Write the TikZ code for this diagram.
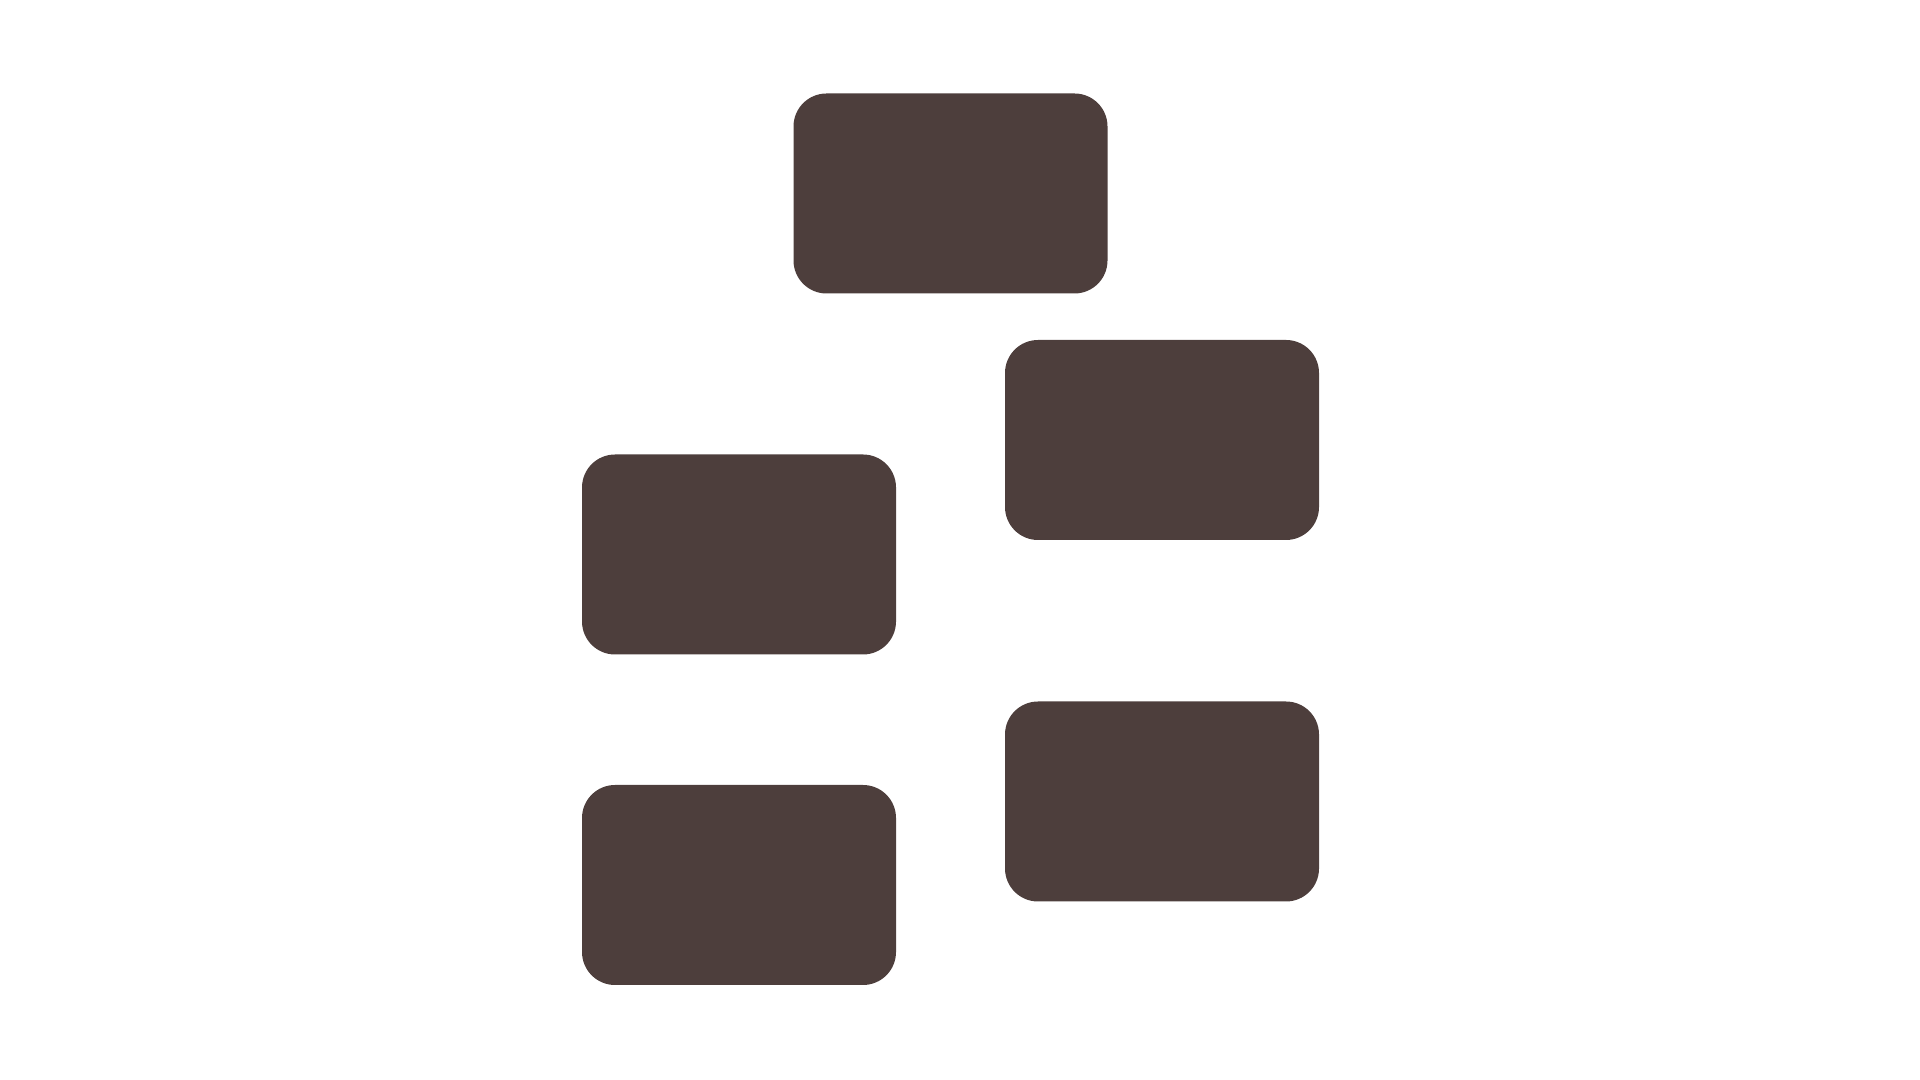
\documentclass[tikz,border=0pt]{standalone}
\definecolor{brick}{RGB}{77,62,60}
\tikzset{
    brickbox/.style={rectangle, rounded corners=0.33cm, fill=brick,
        minimum width=3.14cm, minimum height=2cm, inner sep=0pt}
}
\begin{document}
\begin{tikzpicture}

\useasboundingbox (0,0) rectangle (19.2,10.8);

% ----------------------------------------------------------
% Blocks
% ----------------------------------------------------------
\node[brickbox] (top)    at (9.505,8.865) {};
\node[brickbox] (rightA) at (11.62,6.40) {};
\node[brickbox] (leftA)  at (7.39,5.255) {};
\node[brickbox] (rightB) at (11.62,2.785) {};
\node[brickbox] (leftB)  at (7.39,1.95) {};

\end{tikzpicture}
\end{document}
